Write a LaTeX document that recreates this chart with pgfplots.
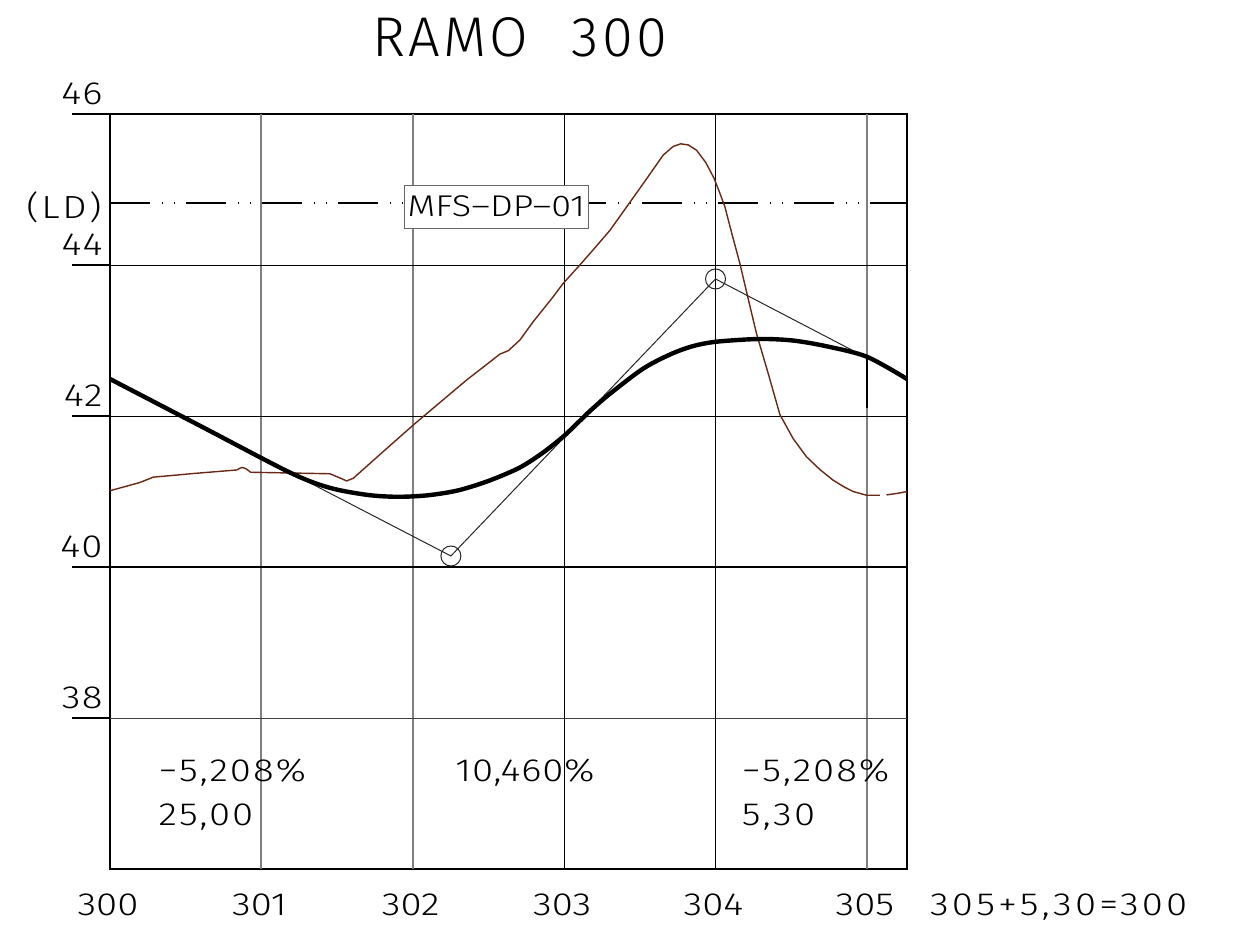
\documentclass[border=0pt]{standalone}
\usepackage{pgfplots}
\pgfplotsset{compat=1.18}
\usepackage{fontspec}
\IfFontExistsTF{Fira Sans Light}{\def\cadname{Fira Sans Light}}{\def\cadname{Fira Sans}}
\setmainfont{\cadname}[FakeStretch=1.2]
\newfontfamily\titlefont{\cadname}[LetterSpace=6]
\newcommand\cad[2]{\fontsize{#1}{#1}\selectfont\addfontfeatures{LetterSpace=#2}}
\definecolor{terrain}{RGB}{105,40,20}
\definecolor{gridgray}{RGB}{128,128,128}

\pgfplotstableread{
x y
300.000 41.010
300.198 41.120
300.286 41.190
300.560 41.240
300.837 41.285
300.860 41.310
300.876 41.318
300.900 41.300
300.929 41.255
301.200 41.245
301.453 41.235
301.530 41.170
301.563 41.140
301.607 41.175
301.800 41.520
302.003 41.880
302.180 42.180
302.356 42.477
302.480 42.670
302.576 42.820
302.631 42.865
302.708 43.007
302.796 43.250
302.840 43.360
302.920 43.560
302.994 43.757
303.104 44.000
303.200 44.220
303.303 44.460
303.413 44.770
303.523 45.080
303.600 45.300
303.655 45.457
303.720 45.570
303.770 45.605
303.820 45.590
303.875 45.520
303.935 45.360
303.990 45.150
304.029 44.950
304.062 44.770
304.110 44.400
304.161 44.020
304.215 43.560
304.271 43.090
304.350 42.550
304.425 42.020
304.513 41.700
304.601 41.460
304.690 41.290
304.777 41.150
304.850 41.060
304.909 41.000
304.998 40.950
305.086 40.950
}\terrainA

\pgfplotstableread{
x y
305.130 40.955
305.200 40.975
305.265 41.000
}\terrainB

\pgfplotstableread{
x y
300.000 42.490
300.600 41.865
301.190 41.250
301.450 41.050
301.700 40.955
301.900 40.930
302.100 40.950
302.300 41.015
302.500 41.140
302.700 41.310
302.850 41.500
302.990 41.720
303.080 41.890
303.170 42.065
303.300 42.290
303.520 42.625
303.700 42.815
303.850 42.925
304.010 42.985
304.290 43.020
304.510 43.000
304.730 42.925
305.000 42.785
305.265 42.490
}\rasante

\begin{document}
\begin{tikzpicture}
\useasboundingbox (-55pt,-32pt) rectangle (565pt,434.5pt);
\begin{axis}[
  at={(0pt,0pt)}, anchor=south west,
  scale only axis, width=398.5pt, height=377.5pt,
  xmin=300, xmax=305.265, ymin=36, ymax=46,
  axis line style={line width=1pt},
  xtick={300,301,302,303,304,305},
  xticklabels={300,301,302,303,304,305},
  ytick={38,40,42,44,46},
  yticklabels={38,40,42,44,46},
  major tick length=0pt,
  tick label style={inner sep=0pt},
  xticklabel style={font=\cad{16}{0}, anchor=base, yshift=-23pt, xshift=-1pt},
  yticklabel style={font=\cad{16}{4}, anchor=south east, xshift=-3.5pt, yshift=4.5pt},
  /pgf/number format/assume math mode=true,
  clip=false,
  every axis plot/.append style={forget plot},
]
% grid lines
\addplot[gridgray, line width=0.9pt] coordinates {(301,36) (301,46)};
\addplot[gridgray, line width=0.9pt] coordinates {(302,36) (302,46)};
\addplot[gridgray, line width=0.9pt] coordinates {(305,36) (305,46)};
\addplot[black, line width=0.5pt] coordinates {(303,36) (303,46)};
\addplot[black, line width=0.5pt] coordinates {(304,36) (304,46)};
\addplot[black!75, line width=0.5pt] coordinates {(300,38) (305.265,38)};
\addplot[black, line width=0.5pt] coordinates {(300,42) (305.265,42)};
\addplot[black, line width=0.5pt] coordinates {(300,44) (305.265,44)};
\addplot[black, line width=1pt] coordinates {(300,40) (305.265,40)};
% left tick extensions
\draw[line width=1pt] (axis cs:300,46) -- ++(-19pt,0pt);
\draw[line width=1pt] (axis cs:300,44) -- ++(-19pt,0pt);
\draw[line width=1pt] (axis cs:300,42) -- ++(-19pt,0pt);
\draw[line width=1pt] (axis cs:300,40) -- ++(-19pt,0pt);
\draw[line width=1pt] (axis cs:300,38) -- ++(-19pt,0pt);
% reference level line
\addplot[black, line width=1pt, dash pattern=on 20pt off 5.75pt on 0.6pt off 5.75pt on 0.6pt off 5.3pt]
  coordinates {(300,44.82) (305.265,44.82)};
\node[draw=black!60, fill=white, line width=0.6pt, minimum width=92pt, minimum height=21.5pt, inner sep=0pt,
  font=\cad{15}{0}] at (axis cs:302.552,44.772) {MFS–DP–01};
% terrain
\addplot[terrain, line width=0.7pt, line join=round] table[x=x,y=y] {\terrainA};
\addplot[terrain, line width=0.7pt, line join=round] table[x=x,y=y] {\terrainB};
% tangent polygon
\addplot[black!85, line width=0.5pt] coordinates {(301.19,41.25) (302.252,40.146) (304.0,43.815) (305.0,42.77)};
\addplot[only marks, mark=o, mark size=5pt, mark options={black!85, line width=0.5pt}]
  coordinates {(302.252,40.146) (304.0,43.815)};
% design grade line
\addplot[black, line width=2.2pt, smooth, tension=0.5, line join=round] table[x=x,y=y] {\rasante};
\addplot[black, line width=1pt] coordinates {(305,42.79) (305,42.10)};
% texts
\node[anchor=base west, inner sep=0pt, font=\titlefont\fontsize{28}{28}\selectfont] at (axis cs:301.7285,46.768) {RAMO};
\node[anchor=base east, inner sep=0pt, font=\titlefont\fontsize{28}{28}\selectfont] at (axis cs:303.6658,46.768) [xshift=1.5pt] {300};
\node[anchor=base east, inner sep=0pt, font=\cad{16}{8}] at (axis cs:300,44.619) [xshift=-4pt] {(LD)};
\node[anchor=base west, inner sep=0pt, font=\cad{16}{6}] at (axis cs:300.319,37.156) {−5,208\%};
\node[anchor=base west, inner sep=0pt, font=\cad{16}{6}] at (axis cs:300.319,36.574) {25,00};
\node[anchor=base west, inner sep=0pt, font=\cad{16}{2.5}] at (axis cs:302.279,37.156) {10,460\%};
\node[anchor=base west, inner sep=0pt, font=\cad{16}{6}] at (axis cs:304.172,37.156) {−5,208\%};
\node[anchor=base west, inner sep=0pt, font=\cad{16}{7}] at (axis cs:304.172,36.574) {5,30};
\node[anchor=base west, inner sep=0pt, font=\cad{16}{10}] at (axis cs:305.415,35.39) {305+5,30=300};
\end{axis}
\end{tikzpicture}
\end{document}
